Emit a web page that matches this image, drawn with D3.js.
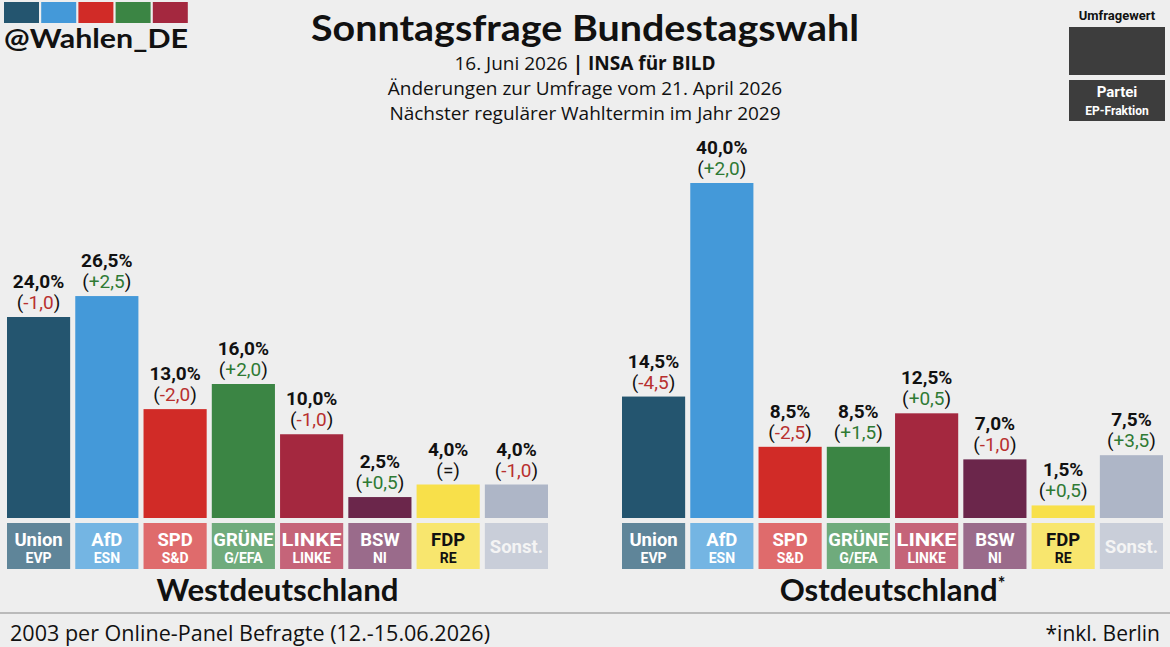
<!DOCTYPE html>
<html>
<head>
<meta charset="utf-8">
<script src="https://cdn.jsdelivr.net/npm/d3@7"></script>
<style>
  body { margin: 0; background: #eeeeee; }
  svg { display: block; }
  .num { font-family: Roboto, sans-serif; }
  .os { font-family: "Open Sans", sans-serif; }
  .head { font-family: Lato, "Open Sans", sans-serif; font-weight: 700; }
</style>
</head>
<body>
<svg></svg>
<script>
// data
var parties  = ["Union", "AfD", "SPD", "GRÜNE", "LINKE", "BSW", "FDP", "Sonst."];
var fraktion = ["EVP", "ESN", "S&D", "G/EFA", "LINKE", "NI", "RE", ""];
var westValues = [24.0, 26.5, 13.0, 16.0, 10.0, 2.5, 4.0, 4.0];
var westChange = [-1.0, 2.5, -2.0, 2.0, -1.0, 0.5, 0.0, -1.0];
var eastValues = [14.5, 40.0, 8.5, 8.5, 12.5, 7.0, 1.5, 7.5];
var eastChange = [-4.5, 2.0, -2.5, 1.5, 0.5, -1.0, 0.5, 3.5];
var barColors  = ["#24556f", "#4499d9", "#d12b27", "#3b8544", "#a4283f", "#6b264b", "#f8e04a", "#aeb6c7"];
var boxColors  = ["#5f8599", "#74b5e3", "#df6b6c", "#6fab7c", "#c56479", "#9a6b8b", "#f8e66e", "#c9ced9"];

var width = 1170, height = 647;
var svg = d3.select('svg').attr('width', width).attr('height', height);
svg.append('rect').attr('width', width).attr('height', height).attr('fill', '#eeeeee');

var baseY = 518;
var y = d3.scaleLinear().domain([0, 40]).range([baseY, 183]);

var fmt = function(v) { return v.toFixed(1).replace('.', ','); };

// header
svg.append('text').attr('class', 'head')
    .attr('x', 585).attr('y', 41).attr('text-anchor', 'middle')
    .attr('font-size', 37).attr('fill', '#111')
    .attr('textLength', 548).attr('lengthAdjust', 'spacingAndGlyphs')
    .text('Sonntagsfrage Bundestagswahl');

var sub1 = svg.append('text').attr('class', 'os')
    .attr('x', 585).attr('y', 70).attr('text-anchor', 'middle')
    .attr('font-size', 19).attr('fill', '#111');
sub1.append('tspan').text('16. Juni 2026 ');
sub1.append('tspan').attr('font-weight', 700).text('| INSA für BILD');

svg.append('text').attr('class', 'os')
    .attr('x', 585).attr('y', 95).attr('text-anchor', 'middle')
    .attr('font-size', 19).attr('fill', '#111')
    .text('Änderungen zur Umfrage vom 21. April 2026');
svg.append('text').attr('class', 'os')
    .attr('x', 585).attr('y', 120).attr('text-anchor', 'middle')
    .attr('font-size', 19).attr('fill', '#111')
    .text('Nächster regulärer Wahltermin im Jahr 2029');

// logo
svg.selectAll('.logo').data(barColors.slice(0, 5)).enter()
    .append('rect').attr('class', 'logo')
    .attr('x', function(d, i) { return 4 + i * 37.2; })
    .attr('y', 2).attr('width', 35).attr('height', 21)
    .attr('fill', function(d) { return d; });
svg.append('text').attr('class', 'head')
    .attr('x', 4).attr('y', 48).attr('font-size', 26).attr('fill', '#111')
    .attr('textLength', 184).attr('lengthAdjust', 'spacingAndGlyphs')
    .text('@Wahlen_DE');

// legend
svg.append('text').attr('class', 'num')
    .attr('x', 1117).attr('y', 20).attr('text-anchor', 'middle')
    .attr('font-size', 13).attr('font-weight', 700).attr('fill', '#111')
    .text('Umfragewert');
svg.append('rect').attr('x', 1069).attr('y', 27).attr('width', 96).attr('height', 48).attr('fill', '#3d3d3d');
svg.append('rect').attr('x', 1069).attr('y', 80).attr('width', 96).attr('height', 41).attr('fill', '#3d3d3d');
svg.append('text').attr('class', 'num')
    .attr('x', 1117).attr('y', 97).attr('text-anchor', 'middle')
    .attr('font-size', 15).attr('font-weight', 700).attr('fill', '#fff').text('Partei');
svg.append('text').attr('class', 'num')
    .attr('x', 1117).attr('y', 115).attr('text-anchor', 'middle')
    .attr('font-size', 12).attr('font-weight', 700).attr('fill', '#fff').text('EP-Fraktion');

var drawRegion = function(name, values, changes, x0, x1, title, star, titleLen)
{
    var x = d3.scaleBand().domain(parties).range([x0, x1]).paddingInner(0.075).paddingOuter(0);
    var g = svg.append('g').attr('class', name);

    g.selectAll('.bar').data(values).enter()
        .append('rect').attr('class', 'bar')
        .attr('x', function(d, i) { return x(parties[i]); })
        .attr('y', function(d) { return y(d); })
        .attr('width', x.bandwidth())
        .attr('height', function(d) { return baseY - y(d); })
        .attr('fill', function(d, i) { return barColors[i]; });

    g.selectAll('.box').data(parties).enter()
        .append('rect').attr('class', 'box')
        .attr('x', function(d) { return x(d); })
        .attr('y', 523).attr('width', x.bandwidth()).attr('height', 46)
        .attr('fill', function(d, i) { return boxColors[i]; });

    g.selectAll('.pname').data(parties).enter()
        .append('text').attr('class', 'num pname')
        .attr('x', function(d) { return x(d) + x.bandwidth() / 2; })
        .attr('y', function(d, i) { return fraktion[i] ? 546 : 553; })
        .attr('text-anchor', 'middle')
        .attr('font-size', 18.5)
        .attr('font-weight', 700)
        .attr('fill', function(d) { return d === 'FDP' ? '#111' : (d === 'Sonst.' ? '#f4f4f4' : '#fff'); })
        .attr('textLength', function(d) { return d === 'GRÜNE' || d === 'LINKE' ? x.bandwidth() - 3 : null; })
        .attr('lengthAdjust', 'spacingAndGlyphs')
        .text(function(d) { return d; });

    g.selectAll('.fname').data(fraktion).enter()
        .append('text').attr('class', 'num fname')
        .attr('x', function(d, i) { return x(parties[i]) + x.bandwidth() / 2; })
        .attr('y', 563).attr('text-anchor', 'middle')
        .attr('font-size', 14).attr('font-weight', 700)
        .attr('fill', function(d, i) { return parties[i] === 'FDP' ? '#111' : '#fff'; })
        .text(function(d) { return d; });

    g.selectAll('.val').data(values).enter()
        .append('text').attr('class', 'num val')
        .attr('x', function(d, i) { return x(parties[i]) + x.bandwidth() / 2; })
        .attr('y', function(d) { return y(d) - 29; })
        .attr('text-anchor', 'middle')
        .attr('font-size', 19).attr('font-weight', 700).attr('fill', '#111')
        .text(function(d) { return fmt(d) + '%'; });

    var ch = g.selectAll('.chg').data(changes).enter()
        .append('text').attr('class', 'num chg')
        .attr('x', function(d, i) { return x(parties[i]) + x.bandwidth() / 2; })
        .attr('y', function(d, i) { return y(values[i]) - 8; })
        .attr('text-anchor', 'middle')
        .attr('font-size', 19).attr('fill', '#111');
    ch.append('tspan').text('(');
    ch.append('tspan')
        .attr('fill', function(d) { return d > 0 ? '#2f7a34' : (d < 0 ? '#b8302f' : '#111'); })
        .text(function(d) { return d === 0 ? '=' : (d > 0 ? '+' : '-') + fmt(Math.abs(d)); });
    ch.append('tspan').text(')');

    var t = svg.append('text').attr('class', 'head')
        .attr('x', (x0 + x1) / 2).attr('y', 601).attr('text-anchor', 'middle')
        .attr('font-size', 30).attr('fill', '#111');
    t.append('tspan').attr('textLength', titleLen).attr('lengthAdjust', 'spacingAndGlyphs').text(title);
    if(star) { t.append('tspan').attr('font-size', 18).attr('dy', -11).text('*'); }
};

drawRegion('west', westValues, westChange, 7, 548, 'Westdeutschland', false, 242);
drawRegion('east', eastValues, eastChange, 622, 1163, 'Ostdeutschland', true, 218);

// footer
svg.append('line').attr('x1', 0).attr('x2', width).attr('y1', 613).attr('y2', 613)
    .attr('stroke', '#a8a8a8').attr('stroke-width', 1.5);
svg.append('text').attr('class', 'os')
    .attr('x', 10).attr('y', 641).attr('font-size', 21).attr('fill', '#111')
    .attr('textLength', 480).attr('lengthAdjust', 'spacingAndGlyphs')
    .text('2003 per Online-Panel Befragte (12.-15.06.2026)');
svg.append('text').attr('class', 'os')
    .attr('x', 1160).attr('y', 641).attr('text-anchor', 'end')
    .attr('font-size', 21).attr('fill', '#111')
    .text('*inkl. Berlin');
</script>
</body>
</html>
